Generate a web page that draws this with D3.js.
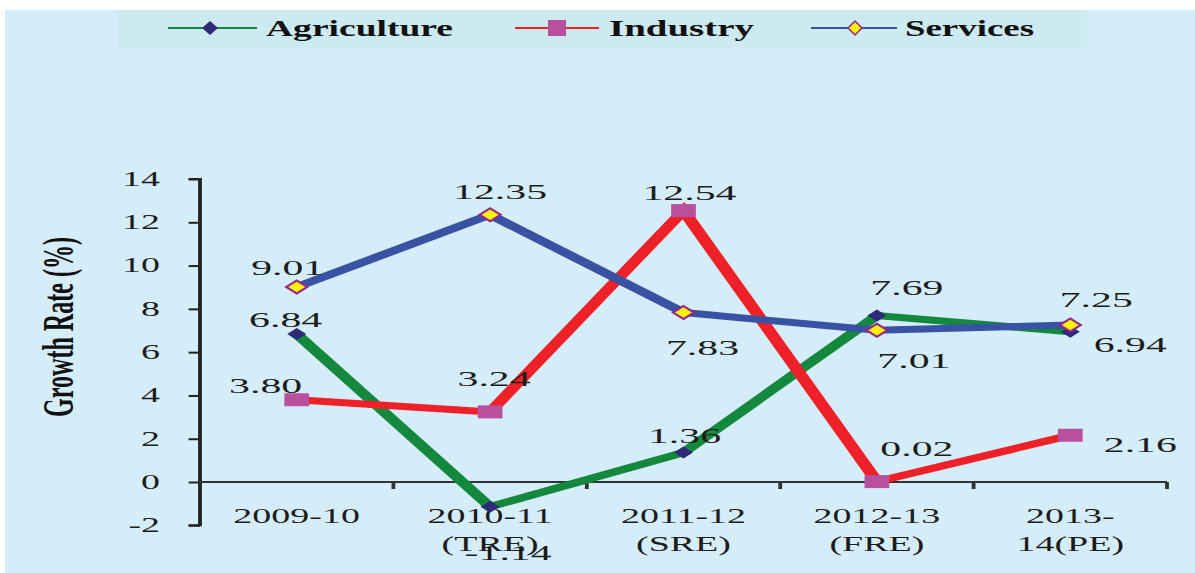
<!DOCTYPE html>
<html><head><meta charset="utf-8">
<script src="https://cdn.jsdelivr.net/npm/d3@7"></script>
<style>html,body{margin:0;padding:0;background:#fff;}svg{display:block;}</style>
</head><body>
<svg id="chart" width="1195" height="573"></svg>
<script>
// ---- data ----
const categories = ["2009-10", "2010-11 (TRE)", "2011-12 (SRE)", "2012-13 (FRE)", "2013-14(PE)"];
const categoryLines = [["2009-10"], ["2010-11", "(TRE)"], ["2011-12", "(SRE)"], ["2012-13", "(FRE)"], ["2013-", "14(PE)"]];
const agriculture = [6.84, -1.14, 1.36, 7.69, 6.94];
const industry = [3.80, 3.24, 12.54, 0.02, 2.16];
const services = [9.01, 12.35, 7.83, 7.01, 7.25];
const yTicks = [-2, 0, 2, 4, 6, 8, 10, 12, 14];
const seriesNames = ["Agriculture", "Industry", "Services"];

// ---- layout / style (real pixel label offsets from point: [dx, dy to baseline]) ----
const SX = 1.9; // horizontal stretch of the original picture
const labelOffsets = {
  Agriculture: [[-11, -7], [18, 53], [1, -10], [30, -21], [60, 20]],
  Industry: [[-31, -7], [4, -26], [6, -11], [40, -26], [70, 17]],
  Services: [[-9, -12], [10, -16], [19, 42], [37, 38], [26, -18]]
};
const styles = {
  Agriculture: {line: "#14893d", marker: "diamond", fill: "#2e2a78", stroke: "none"},
  Industry: {line: "#ee2128", marker: "square", fill: "#b9509e", stroke: "none"},
  Services: {line: "#3a52a3", marker: "ydiamond", fill: "#fff200", stroke: "#93278f"}
};
const seriesData = {Agriculture: agriculture, Industry: industry, Services: services};

const svg = d3.select("#chart");
svg.append("rect").attr("x", 5).attr("y", 10).attr("width", 1190).attr("height", 563).attr("fill", "#d5ecf9");
svg.append("rect").attr("x", 118).attr("y", 10).attr("width", 969).attr("height", 38).attr("fill", "#cdeaf0");

const g = svg.append("g").attr("transform", `scale(${SX},1)`);

const x = d3.scaleBand().domain(categories).range([200 / SX, 1167 / SX]);
const y = d3.scaleLinear().domain([-2, 14]).range([525.3, 179]);
const cx = c => x(c) + x.bandwidth() / 2;
const serif = "'Liberation Serif','Times New Roman',serif";
const textCol = "#1c1c1c";

// y axis
const yAxis = d3.axisLeft(y).tickValues(yTicks).tickSize(6).tickPadding(15).tickFormat(d => String(d));
const ya = g.append("g").attr("transform", `translate(${200 / SX},0)`).call(yAxis);
ya.select(".domain").attr("stroke", "#222").attr("stroke-width", 2).attr("d", `M-6,${y(14)}H0V${y(-2)}H-6`);
ya.selectAll(".tick line").attr("stroke", "#222").attr("stroke-width", 2);
ya.selectAll(".tick text").attr("font-family", serif).attr("font-size", 20).attr("fill", textCol);

// x axis (at zero)
const xa = g.append("g").attr("transform", `translate(0,${y(0)})`);
xa.append("line").attr("x1", x.range()[0]).attr("x2", x.range()[1]).attr("stroke", "#333").attr("stroke-width", 2);
const bounds = categories.map(c => x(c)).concat([x.range()[1]]).slice(1);
xa.selectAll(".xt").data(bounds).join("line").attr("class", "xt")
  .attr("x1", d => d).attr("x2", d => d).attr("y1", 0).attr("y2", 7)
  .attr("stroke", "#333").attr("stroke-width", 2);
const xl = g.append("g");
categories.forEach((c, i) => {
  const t = xl.append("text").attr("x", cx(c)).attr("y", 523).attr("text-anchor", "middle")
    .attr("font-family", serif).attr("font-size", 20).attr("fill", textCol);
  categoryLines[i].forEach((ln, j) => {
    t.append("tspan").attr("x", cx(c)).attr("dy", j === 0 ? 0 : 28).text(ln);
  });
});

// y title
g.append("text").attr("transform", `translate(${59 / SX},327) rotate(-90)`).attr("dy", "0.33em")
  .attr("text-anchor", "middle").attr("font-family", serif).attr("font-weight", "bold")
  .attr("font-size", 23).attr("fill", "#111").attr("textLength", 180).attr("lengthAdjust", "spacingAndGlyphs")
  .text("Growth Rate (%)");

// lines (draw order: green, red, blue)
const line = d3.line().x((d, i) => cx(categories[i])).y(d => y(d));
["Agriculture", "Industry", "Services"].forEach(name => {
  g.append("path").datum(seriesData[name]).attr("d", line).attr("fill", "none")
    .attr("stroke", styles[name].line).attr("stroke-width", 7).attr("stroke-linejoin", "miter");
});

function markerPath(type) {
  if (type === "diamond") return "M0,-6L5,0L0,6L-5,0Z";
  if (type === "ydiamond") return "M0,-6.5L5.5,0L0,6.5L-5.5,0Z";
  return "M-6.5,-6.5H6.5V6.5H-6.5Z";
}
["Agriculture", "Industry", "Services"].forEach(name => {
  const st = styles[name];
  g.selectAll(".m-" + name).data(seriesData[name]).join("path").attr("class", "m-" + name)
    .attr("transform", (d, i) => `translate(${cx(categories[i])},${y(d)})`)
    .attr("d", markerPath(st.marker)).attr("fill", st.fill)
    .attr("stroke", st.stroke).attr("stroke-width", st.stroke === "none" ? 0 : 1.6);
});

// data labels
["Agriculture", "Industry", "Services"].forEach(name => {
  g.selectAll(".l-" + name).data(seriesData[name]).join("text").attr("class", "l-" + name)
    .attr("x", (d, i) => cx(categories[i]) + labelOffsets[name][i][0] / SX)
    .attr("y", (d, i) => y(d) + labelOffsets[name][i][1])
    .attr("text-anchor", "middle").attr("font-family", serif).attr("font-size", 22).attr("fill", textCol)
    .text(d => d.toFixed(2));
});

// legend (real pixel coords)
const legendItems = [
  {name: "Agriculture", x1: 168, x2: 257, mx: 210, tx: 266, tl: 187},
  {name: "Industry", x1: 515, x2: 599, mx: 557, tx: 609, tl: 145},
  {name: "Services", x1: 811, x2: 897, mx: 855, tx: 905, tl: 129}
];
const lg = svg.append("g");
legendItems.forEach(it => {
  const st = styles[it.name];
  lg.append("line").attr("x1", it.x1).attr("x2", it.x2).attr("y1", 28).attr("y2", 28)
    .attr("stroke", st.line).attr("stroke-width", 2);
  let d;
  if (st.marker === "diamond") d = "M0,-7L8,0L0,7L-8,0Z";
  else if (st.marker === "ydiamond") d = "M0,-7L7,0L0,7L-7,0Z";
  else d = "M-9,-8H9V8H-9Z";
  lg.append("path").attr("transform", `translate(${it.mx},28)`).attr("d", d)
    .attr("fill", st.fill).attr("stroke", st.stroke).attr("stroke-width", st.stroke === "none" ? 0 : 1.5);
  lg.append("text").attr("x", it.tx).attr("y", 36).attr("font-family", serif).attr("font-weight", "bold")
    .attr("font-size", 23).attr("fill", "#111").attr("textLength", it.tl).attr("lengthAdjust", "spacingAndGlyphs")
    .text(it.name);
});
</script>
</body></html>
